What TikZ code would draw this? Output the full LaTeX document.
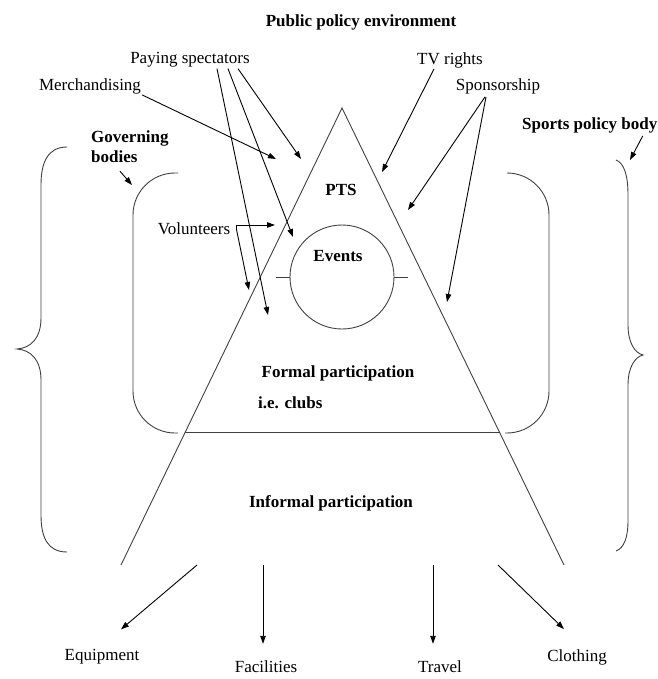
\documentclass[tikz,border=0pt]{standalone}
\usepackage{fontspec}
\setmainfont{Liberation Serif}
\usetikzlibrary{arrows.meta, calc}

\tikzset{
  lbl/.style={font=\fontsize{17}{20}\selectfont, inner sep=1pt},
  blbl/.style={font=\fontsize{17}{20}\selectfont\bfseries, inner sep=1pt},
  frame/.style={line width=0.9pt, black!75},
  arr/.style={line width=0.9pt, -{Triangle[length=8pt, width=5.5pt]}},
}

\begin{document}
\begin{tikzpicture}[x=1pt, y=-1pt]
  \useasboundingbox (0,0) rectangle (657,679);

  % pyramid
  \coordinate (top) at (342,108);
  \coordinate (bl) at (121,565);
  \coordinate (br) at (564,565);
  \draw[frame] (bl) -- (top) -- (br);
  \draw[frame] ($(top)!0.711!(bl)$) -- ($(top)!0.711!(br)$);

  \draw[frame] (342,277) circle (52pt);
  \draw[frame] (276,277) -- (290,277);
  \draw[frame] (394,277) -- (408,277);

  % governing bodies bracket
  \draw[frame, rounded corners=42pt] (178,173) -- (133,173) -- (133,433) -- (178,433);
  \draw[frame, rounded corners=42pt] (507,173) -- (549,173) -- (549,433) -- (505,433);

  % sports policy body braces
  \draw[frame] (67,147) .. controls (48,147) and (41,162) .. (41,185) -- (41,318)
    .. controls (41,338) and (31,348) .. (17,349) .. controls (31,350) and (41,360) .. (41,380)
    -- (41,515) .. controls (41,538) and (48,552) .. (67,552);
  \draw[frame] (616,160) .. controls (624,163) and (628,175) .. (628,195) -- (628,325)
    .. controls (628,343) and (635,353) .. (643,355) .. controls (635,357) and (628,367) .. (628,385)
    -- (628,520) .. controls (628,538) and (624,548) .. (616,551);

  \node[blbl] (policy) at (361,22) {Public policy environment};
  \node[lbl] (pay) at (190,60) {Paying spectators};
  \node[lbl] (tv) at (450,60) {TV rights};
  \node[lbl] (merch) at (90,86) {Merchandising};
  \node[lbl] (spon) at (498,86) {Sponsorship};
  \node[blbl, align=left, anchor=west] (gov) at (90,147) {Governing\\bodies};
  \node[blbl, anchor=west] (spb) at (521,125) {Sports policy body};
  \node[blbl] (pts) at (341,190) {PTS};
  \node[blbl] (events) at (338,256) {Events};
  \node[lbl] (vol) at (194,229) {Volunteers};
  \node[blbl] (formal) at (338,373) {Formal participation};
  \node[blbl, anchor=west] (clubs) at (257,403) {i.e. clubs};
  \node[blbl] (informal) at (331,503) {Informal participation};
  \node[lbl] (equip) at (102,657) {Equipment};
  \node[lbl] (fac) at (266,667) {Facilities};
  \node[lbl] (travel) at (440,667) {Travel};
  \node[lbl] (cloth) at (577,657) {Clothing};

  % arrow tips
  \coordinate (tmerch) at (276,159);
  \coordinate (tpay1) at (301,159);
  \coordinate (tpay2) at (293,237);
  \coordinate (tpay3) at (268,315);
  \coordinate (ttv) at (382,172);
  \coordinate (tspon1) at (408,210);
  \coordinate (tspon2) at (447,302);
  \coordinate (tvol1) at (275,225);
  \coordinate (tvol2) at (249,290);
  \coordinate (tgov) at (132,185);
  \coordinate (tspb) at (630,160);

  \draw[arr] (merch.south east) -- (tmerch);
  \draw[arr] ([xshift=48pt]pay.south) -- (tpay1);
  \draw[arr] ([xshift=38pt]pay.south) -- (tpay2);
  \draw[arr] ([xshift=27pt]pay.south) -- (tpay3);
  \draw[arr] ([xshift=-16pt]tv.south) -- (ttv);
  \draw[arr] ([xshift=-13pt,yshift=-2pt]spon.south) -- (tspon1);
  \draw[arr] ([xshift=-12pt,yshift=-2pt]spon.south) -- (tspon2);
  \draw[arr] ([xshift=5pt]vol.east) |- (tvol1);
  \draw[arr] ([xshift=5pt]vol.east) -- (tvol2);
  \draw[arr] ([xshift=-10pt,yshift=-7pt]gov.south) -- (tgov);
  \draw[arr] ([xshift=53pt,yshift=-2pt]spb.south) -- (tspb);

  % spending
  \coordinate (s1) at (197,565);
  \coordinate (s2) at (263,565);
  \coordinate (s3) at (433,565);
  \coordinate (s4) at (498,565);
  \draw[arr] (s1) -- ([xshift=19pt,yshift=19pt]equip.north);
  \draw[arr] (s2) -- ([xshift=-3pt,yshift=16pt]fac.north);
  \draw[arr] (s3) -- ([xshift=-7pt,yshift=16pt]travel.north);
  \draw[arr] (s4) -- ([xshift=-13pt,yshift=19pt]cloth.north);
\end{tikzpicture}
\end{document}
